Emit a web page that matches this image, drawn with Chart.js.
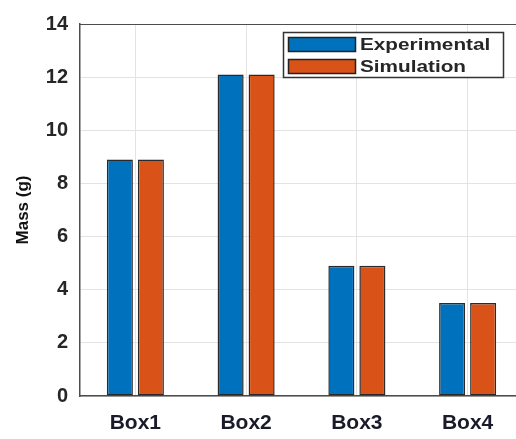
<!DOCTYPE html>
<html>
<head>
<meta charset="utf-8">
<script src="https://cdn.jsdelivr.net/npm/chart.js@4/dist/chart.umd.min.js"></script>
<style>
  html, body { margin: 0; padding: 0; background: #fff; overflow: hidden; }
  #wrap { position: relative; width: 530px; height: 439px; }
</style>
</head>
<body>
<div id="wrap"><canvas id="massChart"></canvas></div>
<script>
const boxLabels = ["Box1", "Box2", "Box3", "Box4"];
const experimentalMass = [8.9, 12.1, 4.9, 3.5];
const simulationMass = [8.9, 12.1, 4.9, 3.5];
const yTicks = [0, 2, 4, 6, 8, 10, 12, 14];

// legend drawn inside the plot, top right, plus the top border of the box
const insideLegend = {
  id: "insideLegend",
  afterDraw(chart) {
    const ctx = chart.ctx;
    const area = chart.chartArea;
    ctx.save();
    ctx.strokeStyle = "#4d4d4d";
    ctx.lineWidth = 1;
    ctx.beginPath();
    ctx.moveTo(area.left, area.top + 0.5);
    ctx.lineTo(area.right, area.top + 0.5);
    ctx.stroke();

    const bx = 283, by = 32, bw = 220, bh = 45;
    ctx.fillStyle = "#fff";
    ctx.fillRect(bx, by, bw, bh);
    ctx.strokeStyle = "#333";
    ctx.lineWidth = 1.5;
    ctx.strokeRect(bx + 0.5, by + 0.5, bw, bh);
    ctx.font = "bold 17px Arial, 'Liberation Sans', sans-serif";
    ctx.textBaseline = "middle";
    chart.data.datasets.forEach((ds, i) => {
      const sy = 37 + i * 22;
      ctx.fillStyle = ds.backgroundColor;
      ctx.fillRect(288, sy, 68, 15);
      ctx.strokeStyle = "#222";
      ctx.lineWidth = 1.5;
      ctx.strokeRect(288.5, sy + 0.5, 67, 14);
      ctx.save();
      ctx.translate(360, sy + 8);
      ctx.scale(1.22, 1);
      ctx.fillStyle = "#262626";
      ctx.fillText(ds.label, 0, 0);
      ctx.restore();
    });
    ctx.restore();
  }
};

new Chart(document.getElementById("massChart"), {
  type: "bar",
  data: {
    labels: boxLabels,
    datasets: [
      {
        label: "Experimental",
        data: experimentalMass,
        backgroundColor: "#0072BD",
      },
      {
        label: "Simulation",
        data: simulationMass,
        backgroundColor: "#D95319",
      },
    ],
  },
  options: {
    responsive: true,
    maintainAspectRatio: false,
    animation: false,
    categoryPercentage: 0.56,
    barPercentage: 0.84,
    elements: {
      bar: { borderColor: "#2a2a2a", borderWidth: 1.5, borderSkipped: false },
    },
    layout: { padding: { top: 17, right: 7, left: 0, bottom: 0 } },
    plugins: {
      legend: { display: false },
      tooltip: { enabled: false },
    },
    scales: {
      x: {
        grid: { offset: false, color: "#e3e3e3", drawTicks: false },
        border: { color: "#4d4d4d", width: 1.5 },
        ticks: {
          color: "#1a1a2a",
          padding: 15,
          font: { family: "Arial, 'Liberation Sans', sans-serif", size: 21, weight: "bold" },
        },
        afterFit(scale) { scale.height = 43; },
      },
      y: {
        min: 0,
        max: 14,
        afterBuildTicks(scale) { scale.ticks = yTicks.map(v => ({ value: v })); },
        grid: { color: "#e3e3e3", drawTicks: false },
        border: { color: "#4d4d4d", width: 1.5 },
        ticks: {
          color: "#262626",
          padding: 12,
          font: { family: "Arial, 'Liberation Sans', sans-serif", size: 20, weight: "bold" },
        },
        title: {
          display: true,
          text: "Mass (g)",
          color: "#111",
          padding: { top: 13, bottom: 0 },
          font: { family: "Arial, 'Liberation Sans', sans-serif", size: 17, weight: "bold" },
        },
        afterFit(scale) { scale.width = 80; },
      },
    },
  },
  plugins: [insideLegend],
});
</script>
</body>
</html>
